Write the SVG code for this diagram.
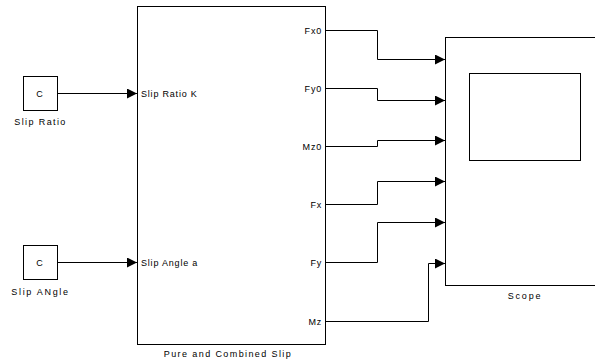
<svg xmlns="http://www.w3.org/2000/svg" width="595" height="363" viewBox="0 0 595 363">
<defs>
<style>
.blk{fill:#fff;stroke:#000;stroke-width:1}
.ln{fill:none;stroke:#000;stroke-width:1}
text{font-family:"Liberation Sans",Arial,sans-serif;font-size:9px;fill:#000;letter-spacing:0.8px}
.r{text-anchor:end}
.m{text-anchor:middle}
.nm{letter-spacing:1.4px}
</style>
<marker id="ah" viewBox="0 0 10 10" refX="10" refY="5" markerWidth="10" markerHeight="10" markerUnits="userSpaceOnUse" orient="auto">
<path d="M0,0 L10,5 L0,10 Z" fill="#000"/>
</marker>
</defs>
<rect width="595" height="363" fill="#fff"/>
<g id="slip-ratio">
<rect class="blk" x="23.5" y="76.5" width="34" height="34"/>
<text class="m" x="40" y="96.5">C</text>
<text class="m nm" x="40.5" y="125">Slip Ratio</text>
</g>
<g id="slip-angle">
<rect class="blk" x="23.5" y="245.5" width="34" height="34"/>
<text class="m" x="40" y="266">C</text>
<text class="m nm" x="40.5" y="295" style="letter-spacing:1.7px">Slip ANgle</text>
</g>
<g id="pure-combined-slip">
<rect class="blk" x="137.5" y="6.5" width="188" height="338"/>
<text x="141" y="96.5">Slip Ratio K</text>
<text x="141" y="266">Slip Angle a</text>
<text class="r" x="322" y="33.5">Fx0</text>
<text class="r" x="322" y="91.5">Fy0</text>
<text class="r" x="322" y="149.5">Mz0</text>
<text class="r" x="322" y="207.5">Fx</text>
<text class="r" x="322" y="266">Fy</text>
<text class="r" x="322" y="325">Mz</text>
<text class="m nm" x="228" y="357">Pure and Combined Slip</text>
</g>
<g id="scope">
<rect class="blk" x="445.5" y="37.5" width="160" height="248"/>
<rect class="blk" x="469.5" y="73.5" width="111" height="87"/>
<text class="m nm" x="525" y="299" style="letter-spacing:1.8px">Scope</text>
</g>
<g id="connectors">
<path class="ln" marker-end="url(#ah)" d="M58,93.5 H137"/>
<path class="ln" marker-end="url(#ah)" d="M58,262.5 H137"/>
<path class="ln" marker-end="url(#ah)" d="M326,30.5 H377.5 V59.5 H445"/>
<path class="ln" marker-end="url(#ah)" d="M326,88.5 H377.5 V100.5 H445"/>
<path class="ln" marker-end="url(#ah)" d="M326,146.5 H377.5 V140.5 H445"/>
<path class="ln" marker-end="url(#ah)" d="M326,204.5 H377.5 V181.5 H445"/>
<path class="ln" marker-end="url(#ah)" d="M326,262.5 H377.5 V222.5 H445"/>
<path class="ln" marker-end="url(#ah)" d="M326,321.5 H428.5 V263.5 H445"/>
</g>
</svg>
